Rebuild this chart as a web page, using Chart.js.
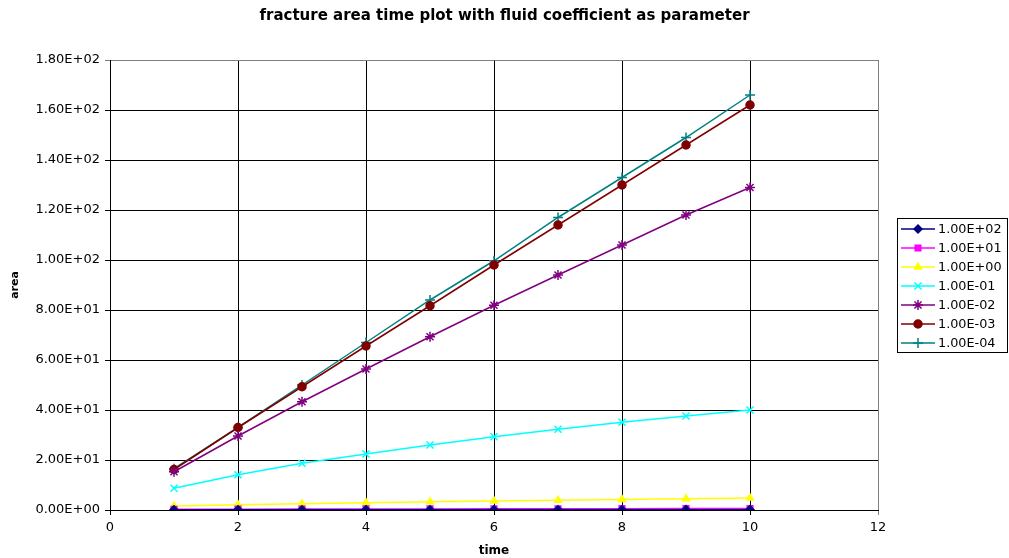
<!DOCTYPE html>
<html>
<head>
<meta charset="utf-8">
<script src="https://cdn.jsdelivr.net/npm/chart.js@4.4.0/dist/chart.umd.min.js"></script>
<style>
    html, body { margin: 0; padding: 0; background: #fff; }
    #wrap { width: 1009px; height: 558px; }
</style>
</head>
<body>
<div id="wrap"><canvas id="areaChart" width="1009" height="558"></canvas></div>
<script>
// time steps and one series per fluid coefficient
const times = [1, 2, 3, 4, 5, 6, 7, 8, 9, 10];
const coeffLabels = ['1.00E+02', '1.00E+01', '1.00E+00', '1.00E-01', '1.00E-02', '1.00E-03', '1.00E-04'];
const area_1e2 = [0.05, 0.06, 0.07, 0.08, 0.09, 0.10, 0.11, 0.12, 0.13, 0.14];
const area_1e1 = [0.3, 0.35, 0.4, 0.42, 0.45, 0.48, 0.5, 0.53, 0.56, 0.6];
const area_1e0 = [1.6, 2.1, 2.5, 2.9, 3.3, 3.6, 3.9, 4.2, 4.5, 4.8];
const area_1em1 = [8.7, 14.1, 18.7, 22.4, 26.0, 29.3, 32.3, 35.1, 37.6, 40.0];
const area_1em2 = [15.3, 29.6, 43.3, 56.4, 69.3, 81.9, 94.0, 106.0, 118.0, 129.0];
const area_1em3 = [16.2, 33.0, 49.3, 65.6, 81.7, 98.0, 114.0, 130.0, 146.0, 162.0];
const area_1em4 = [16.5, 33.0, 50.0, 67.0, 84.0, 99.7, 117.0, 133.0, 149.0, 166.0];

const xTicks = [0, 2, 4, 6, 8, 10, 12];
const yTicks = [0, 20, 40, 60, 80, 100, 120, 140, 160, 180];

const seriesValues = [area_1e2, area_1e1, area_1e0, area_1em1, area_1em2, area_1em3, area_1em4];
const seriesColors = ['#000080', '#ff00ff', '#ffff00', '#00ffff', '#800080', '#800000', '#008080'];
const seriesPoints = ['rectRot', 'rect', 'triangle', 'crossRot', 'star', 'circle', 'cross'];

const FONT = '"DejaVu Sans", Verdana, sans-serif';

// Excel style number format 1.80E+02
function sci(v) {
    if (v === 0) return '0.00E+00';
    const exp = Math.floor(Math.log10(Math.abs(v)));
    const mant = v / Math.pow(10, exp);
    const sign = exp < 0 ? '-' : '+';
    return mant.toFixed(2) + 'E' + sign + String(Math.abs(exp)).padStart(2, '0');
}

const datasets = seriesValues.map((vals, i) => ({
    label: coeffLabels[i],
    data: times.map((t, j) => ({ x: t, y: vals[j] })),
    borderColor: seriesColors[i],
    backgroundColor: seriesColors[i],
    borderWidth: 1.5,
    pointStyle: seriesPoints[i],
    pointRadius: (seriesPoints[i] === 'cross' || seriesPoints[i] === 'crossRot' || seriesPoints[i] === 'star') ? 5 : 4,
    pointBorderWidth: 1.5,
    showLine: true,
    tension: 0
}));

// legend drawn on the canvas: line + marker + label, in a framed box
const boxLegend = {
    id: 'boxLegend',
    afterDraw(chart) {
        const ctx = chart.ctx;
        const x0 = 897, y0 = 218, w = 110, h = 134;
        ctx.save();
        ctx.strokeStyle = '#000';
        ctx.lineWidth = 1;
        ctx.strokeRect(x0 + 0.5, y0 + 0.5, w, h);
        ctx.font = '12.8px ' + FONT;
        ctx.textBaseline = 'middle';
        chart.data.datasets.forEach((ds, i) => {
            const y = y0 + 11 + i * 19;
            ctx.strokeStyle = ds.borderColor;
            ctx.fillStyle = ds.borderColor;
            ctx.lineWidth = 1.5;
            ctx.beginPath();
            ctx.moveTo(x0 + 4, y);
            ctx.lineTo(x0 + 38, y);
            ctx.stroke();
            Chart.helpers.drawPoint(ctx, {
                pointStyle: ds.pointStyle, radius: ds.pointRadius, rotation: 0, borderWidth: 1.5
            }, x0 + 21, y);
            ctx.fillStyle = '#000';
            ctx.fillText(ds.label, x0 + 41, y + 1);
        });
        ctx.restore();
    }
};

const ctx = document.getElementById('areaChart');
new Chart(ctx, {
    type: 'scatter',
    data: { datasets: datasets },
    plugins: [boxLegend],
    options: {
        responsive: false,
        animation: false,
        layout: { padding: 0 },
        plugins: {
            legend: { display: false },
            tooltip: { enabled: false },
            title: {
                display: true,
                text: 'fracture area time plot with fluid coefficient as parameter',
                color: '#000',
                font: { family: FONT, size: 15, weight: 'bold' },
                padding: { top: 7, bottom: 35 }
            }
        },
        scales: {
            x: {
                type: 'linear',
                min: 0,
                max: 12,
                afterBuildTicks: (scale) => { scale.ticks = xTicks.map(v => ({ value: v })); },
                afterFit: (scale) => { scale.height = 48; },
                ticks: {
                    color: '#000',
                    padding: 5,
                    maxRotation: 0,
                    font: { family: FONT, size: 13 }
                },
                grid: {
                    color: (c) => (c.tick && c.tick.value === 12) ? '#808080' : '#000',
                    lineWidth: 1,
                    tickLength: 5
                },
                border: { color: '#000', width: 1 },
                title: {
                    display: true,
                    text: 'time',
                    color: '#000',
                    padding: { top: 1, bottom: 0 },
                    font: { family: FONT, size: 12, weight: 'bold' }
                }
            },
            y: {
                min: 0,
                max: 180,
                afterBuildTicks: (scale) => { scale.ticks = yTicks.map(v => ({ value: v })); },
                afterFit: (scale) => { scale.width = 110; },
                ticks: {
                    color: '#000',
                    padding: 5,
                    font: { family: FONT, size: 13 },
                    callback: (v) => sci(v)
                },
                grid: {
                    color: (c) => (c.tick && c.tick.value === 180) ? '#808080' : '#000',
                    lineWidth: 1,
                    tickLength: 5
                },
                border: { color: '#000', width: 1 },
                title: {
                    display: true,
                    text: 'area',
                    color: '#000',
                    padding: { top: 9, bottom: 0 },
                    font: { family: FONT, size: 11, weight: 'bold' }
                }
            },
            // empty right-hand axis that only keeps room for the legend box
            yRight: {
                position: 'right',
                display: true,
                afterFit: (scale) => { scale.width = 131; },
                ticks: { display: false },
                grid: { display: false, drawTicks: false },
                border: { display: false }
            }
        }
    }
});
</script>
</body>
</html>
